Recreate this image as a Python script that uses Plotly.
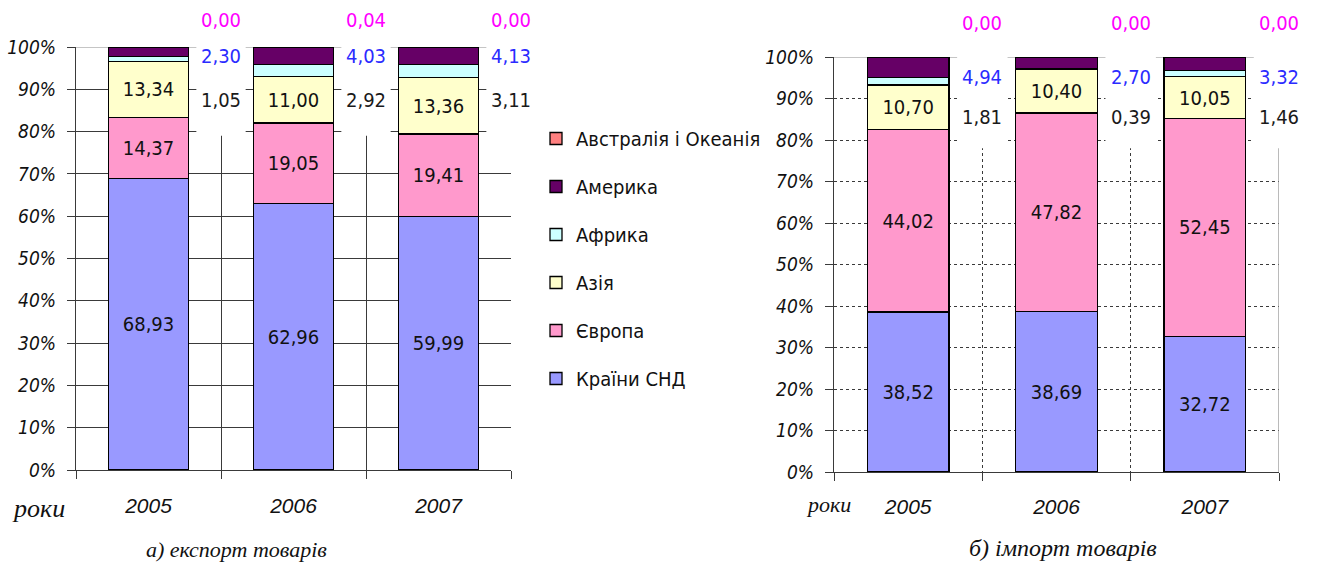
import plotly.graph_objects as go

# ---- data -------------------------------------------------------------
years = ["2005", "2006", "2007"]
regions = ["Країни СНД", "Європа", "Азія", "Африка", "Америка", "Австралія і Океанія"]
region_colors = ["#9999FF", "#FF99CC", "#FFFFCC", "#CCFFFF", "#660066", "#FF8080"]

# export of goods, % of total
export_cis = [68.93, 62.96, 59.99]
export_europe = [14.37, 19.05, 19.41]
export_asia = [13.34, 11.00, 13.36]
export_africa = [1.05, 2.92, 3.11]
export_america = [2.30, 4.03, 4.13]
export_oceania = [0.00, 0.04, 0.00]

# import of goods, % of total
import_cis = [38.52, 38.69, 32.72]
import_europe = [44.02, 47.82, 52.45]
import_asia = [10.70, 10.40, 10.05]
import_africa = [1.81, 0.39, 1.46]
import_america = [4.94, 2.70, 3.32]
import_oceania = [0.00, 0.00, 0.00]

y_ticks = list(range(0, 101, 10))
y_tick_text = [f"{v}%" for v in y_ticks]

export_series = [export_cis, export_europe, export_asia,
                 export_africa, export_america, export_oceania]
import_series = [import_cis, import_europe, import_asia,
                 import_africa, import_america, import_oceania]

# ---- styling ----------------------------------------------------------
NARROW = "Liberation Sans Narrow, Arial Narrow, DejaVu Sans Condensed, sans-serif"
SANS = "Liberation Sans, Arial, sans-serif"
SERIF = "Liberation Serif, Times New Roman, serif"
GRID = "#3a3a3a"
FRAME = "#8c8c8c"
# colours of the small-share labels printed beside the bars
side_colors = {3: "#1a1a1a", 4: "#2b2bff", 5: "#ff00ff"}

xs = list(range(len(years)))


def fmt(v):
    return f"{v:.2f}".replace(".", ",")


fig = go.Figure()


def add_panel(series, xa, ya, show_legend):
    n = len(regions)
    for k, (name, vals) in enumerate(zip(regions, series)):
        inside = k < 3
        fig.add_trace(go.Bar(
            x=xs, y=vals, name=name, xaxis=xa, yaxis=ya,
            width=0.55,
            legendgroup=name, showlegend=show_legend, legendrank=n - k,
            marker=dict(color=region_colors[k], line=dict(color="#000000", width=1.3)),
            texttemplate="%{y:.2f}" if inside else None,
            textposition="inside" if inside else "none",
            insidetextanchor="middle", textangle=0, constraintext="none",
            textfont=dict(family=NARROW, size=20, color="#111111"),
            hoverinfo="skip",
        ))


add_panel(export_series, "x", "y", True)
add_panel(import_series, "x2", "y2", False)

shapes = []
annotations = []


def side_labels(series, xref, yref, rows, box_bottom, dashed):
    # white boxes behind the side labels, between neighbouring columns
    for i in range(len(years)):
        cx = i + 0.5
        shapes.append(dict(type="rect", xref=xref, yref=yref,
                           x0=cx - 0.17, x1=cx + 0.17, y0=box_bottom, y1=101,
                           fillcolor="white", line=dict(width=0), layer="above"))
        for k, ry in rows.items():
            annotations.append(dict(
                xref=xref, yref=yref + " domain", x=cx, y=ry / 100, text=fmt(series[k][i]),
                showarrow=False, xanchor="center", yanchor="middle",
                font=dict(family=NARROW, size=20, color=side_colors[k])))
    # solid grey frame line on top of the plot area
    shapes.append(dict(type="line", xref=xref, yref=yref, x0=-0.5, x1=2.5, y0=100, y1=100,
                       line=dict(color=FRAME, width=1.2), layer="between"))
    if dashed:
        shapes.append(dict(type="line", xref=xref, yref=yref, x0=2.5, x1=2.5, y0=0, y1=100,
                           line=dict(color=FRAME, width=1.2), layer="between"))


side_labels(export_series, "x", "y", {5: 106.3, 4: 97.9, 3: 87.4}, 79.0, False)
side_labels(import_series, "x2", "y2", {5: 108.2, 4: 95.3, 3: 85.6}, 78.0, True)

annotations += [
    dict(xref="paper", yref="paper", x=38 / 1317, y=1 - 508 / 563, text="роки",
         showarrow=False, xanchor="center", yanchor="middle",
         font=dict(family=SERIF, size=26, style="italic", color="#111111")),
    dict(xref="paper", yref="paper", x=828 / 1317, y=1 - 505 / 563, text="роки",
         showarrow=False, xanchor="center", yanchor="middle",
         font=dict(family=SERIF, size=22, style="italic", color="#111111")),
    dict(xref="paper", yref="paper", x=236 / 1317, y=1 - 549 / 563, text="а) експорт товарів",
         showarrow=False, xanchor="center", yanchor="middle",
         font=dict(family=SERIF, size=22, style="italic", color="#111111")),
    dict(xref="paper", yref="paper", x=1063 / 1317, y=1 - 548 / 563, text="б) імпорт товарів",
         showarrow=False, xanchor="center", yanchor="middle",
         font=dict(family=SERIF, size=24, style="italic", color="#111111")),
]


def x_axis(domain, anchor, dashed, standoff):
    return dict(
        domain=domain, anchor=anchor, range=[-0.5, 2.5], automargin=False,
        tickmode="array", tickvals=xs, ticktext=years,
        ticks="", showgrid=False, zeroline=False,
        showline=True, linecolor=GRID, linewidth=1.2,
        ticklabelstandoff=standoff,
        tickfont=dict(family=SANS, size=21, style="italic", color="#111111"),
        minor=dict(tickmode="array", tickvals=[-0.5, 0.5, 1.5, 2.5],
                   showgrid=True, gridcolor=GRID, gridwidth=1,
                   griddash="3px,3px" if dashed else "solid",
                   ticks="outside", ticklen=8, tickcolor=GRID, tickwidth=1.2),
        fixedrange=True,
    )


def y_axis(domain, anchor, dashed):
    return dict(
        domain=domain, anchor=anchor, range=[0, 100], automargin=False,
        tickmode="array", tickvals=y_ticks, ticktext=y_tick_text,
        ticks="outside", ticklen=8, tickcolor=GRID, tickwidth=1.2,
        showgrid=True, gridcolor=GRID, gridwidth=1,
        griddash="3px,3px" if dashed else "solid",
        zeroline=False, showline=True, linecolor=GRID, linewidth=1.2,
        ticklabelstandoff=7,
        tickfont=dict(family=NARROW, size=19, style="italic", color="#111111"),
        fixedrange=True,
    )


fig.update_layout(
    width=1317, height=563,
    margin=dict(l=0, r=0, t=0, b=0, autoexpand=False),
    paper_bgcolor="white", plot_bgcolor="white",
    barmode="stack",
    separators=", ",
    xaxis=x_axis([76 / 1317, 511 / 1317], "y", False, 17),
    yaxis=y_axis([1 - 470 / 563, 1 - 47 / 563], "x", False),
    xaxis2=x_axis([834 / 1317, 1279 / 1317], "y2", True, 16),
    yaxis2=y_axis([1 - 472 / 563, 1 - 57 / 563], "x2", True),
    legend=dict(
        x=536 / 1317, y=1 - 119 / 563, xanchor="left", yanchor="top",
        traceorder="grouped", tracegroupgap=19,
        font=dict(family=NARROW, size=20, color="#111111"),
        bgcolor="rgba(255,255,255,0)", borderwidth=0,
        itemwidth=30,
    ),
    shapes=shapes,
    annotations=annotations,
    showlegend=True,
)

fig.write_html("out.html")
